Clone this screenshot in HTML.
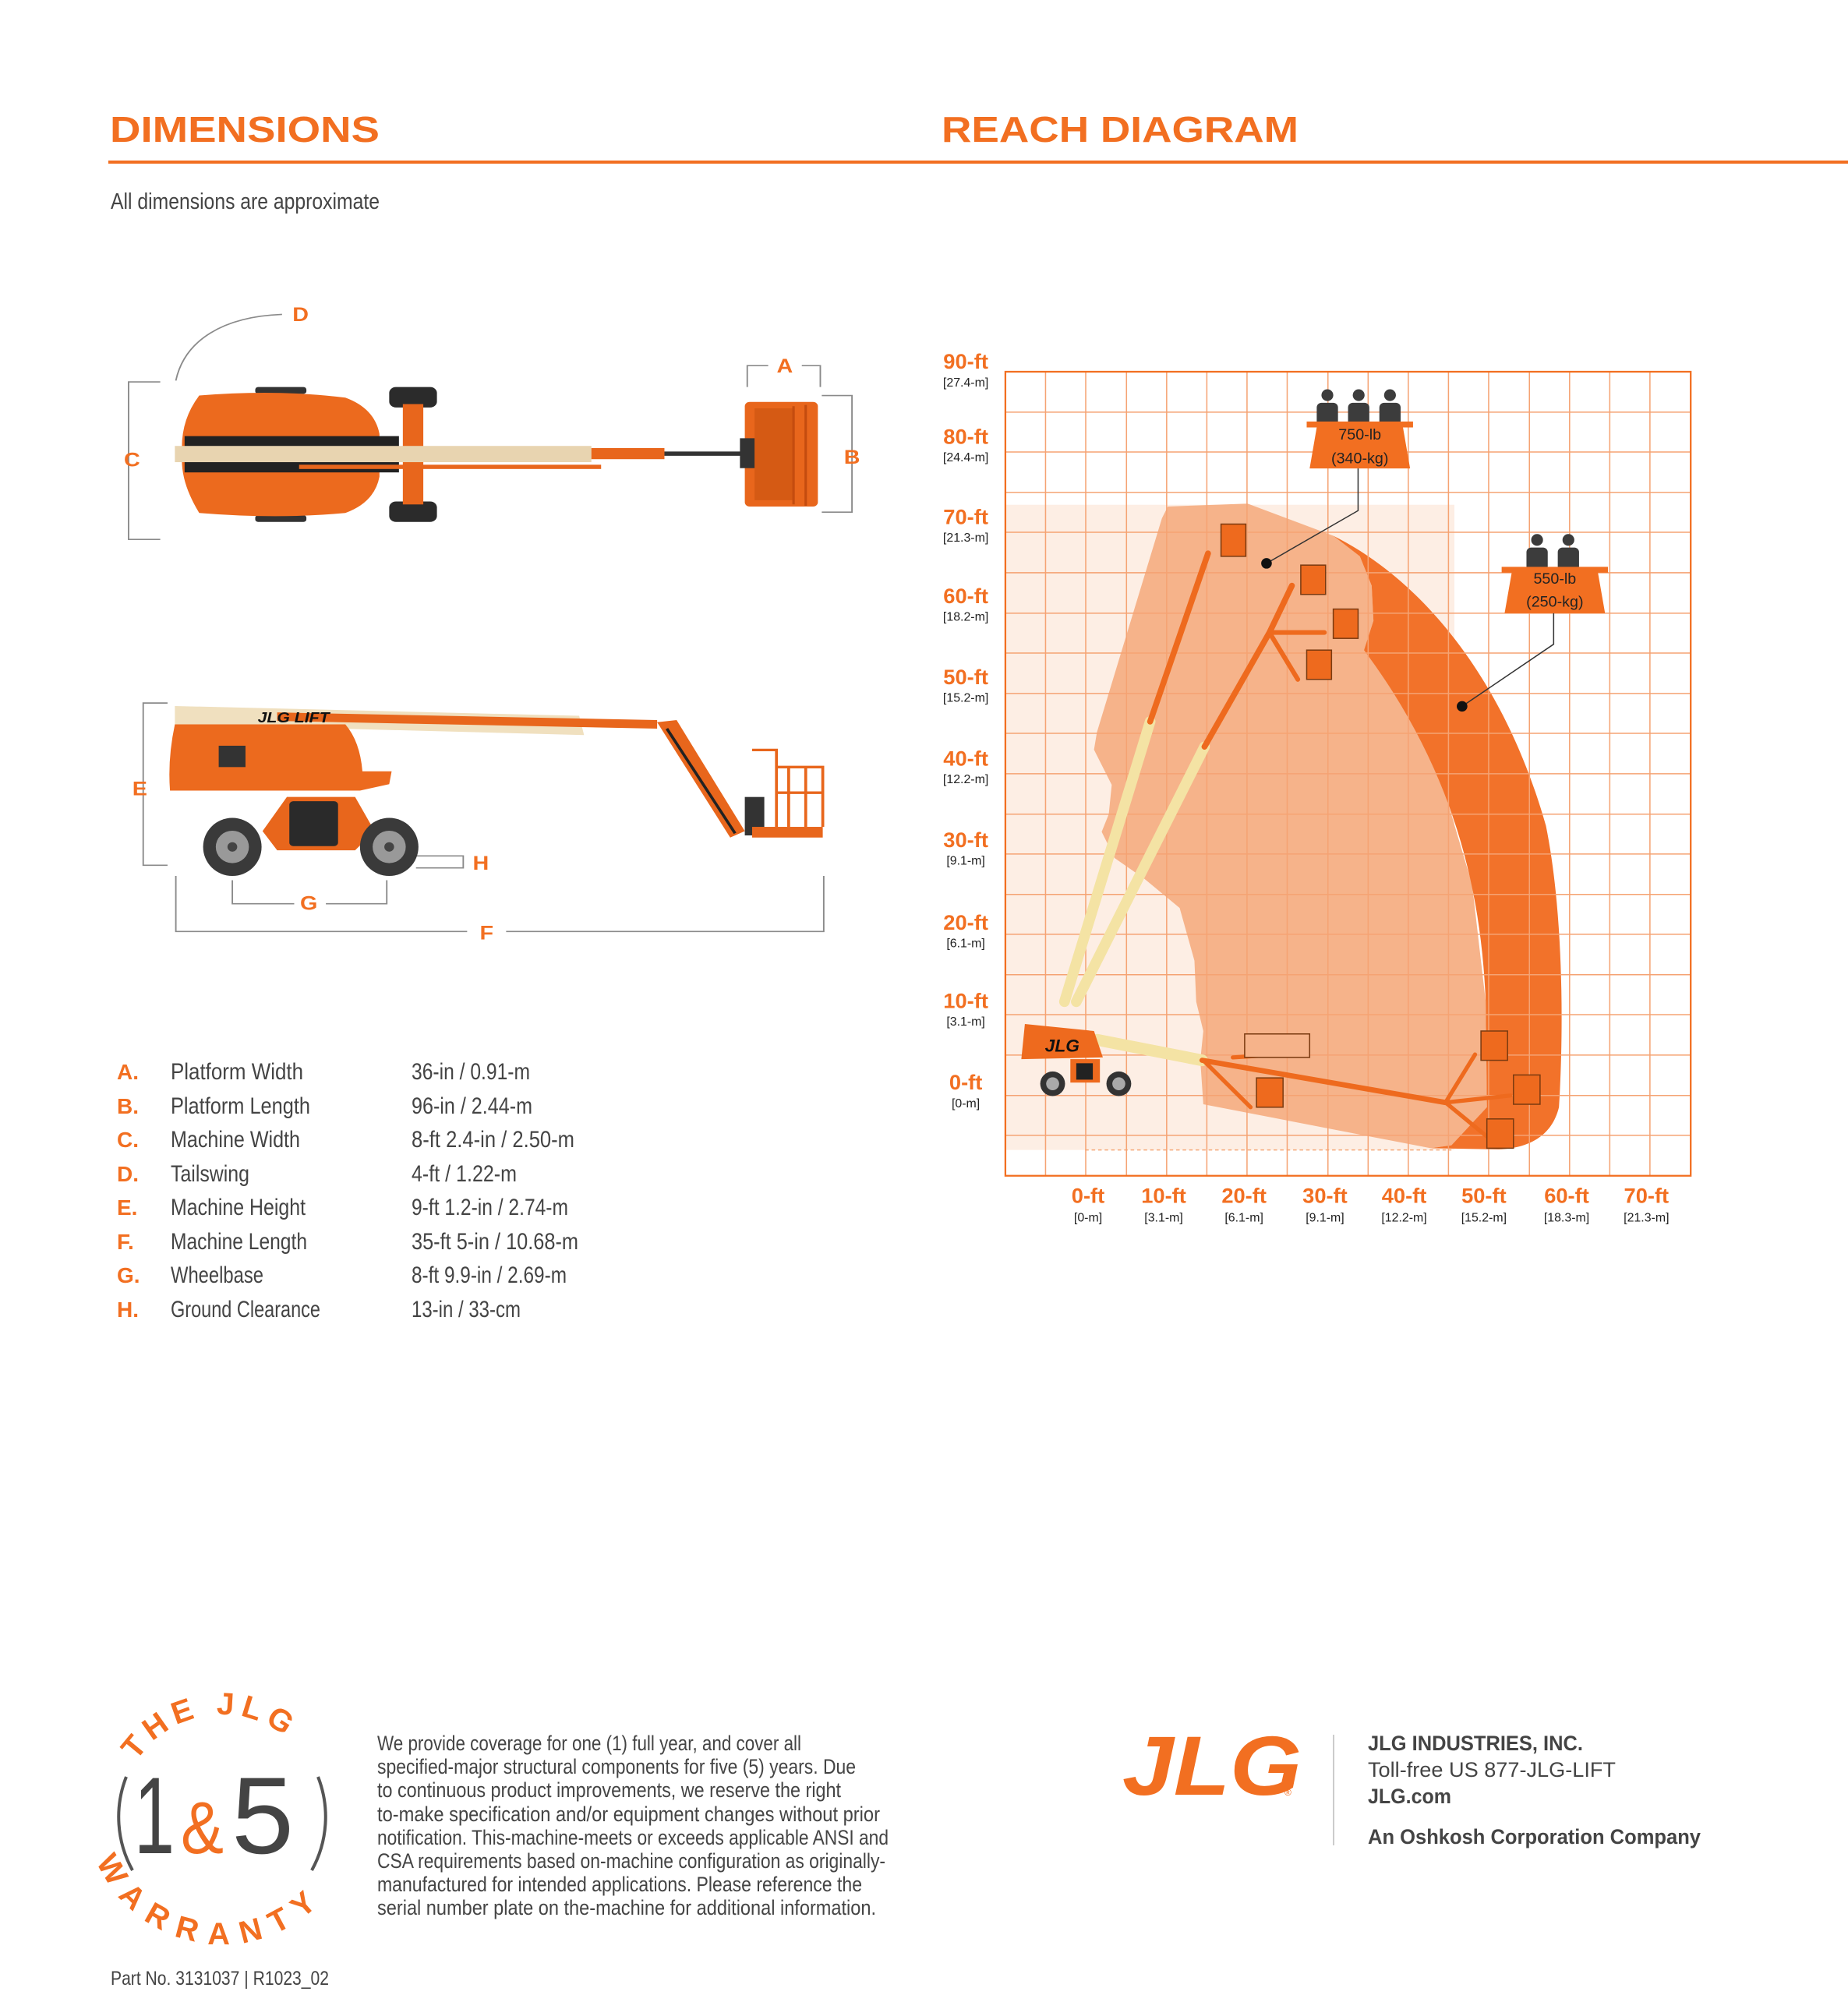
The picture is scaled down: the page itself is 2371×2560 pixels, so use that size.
<!DOCTYPE html>
<html><head><meta charset="utf-8"><style>
html,body{margin:0;padding:0;background:#fff}
svg{display:block}
text{font-family:"Liberation Sans",sans-serif}
</style></head><body>
<svg width="2371" height="2560" viewBox="0 0 2371 2560" xmlns="http://www.w3.org/2000/svg">
<!-- headers -->
<text x="141" y="182" font-size="46" font-weight="bold" fill="#f26f21" textLength="346" lengthAdjust="spacingAndGlyphs">DIMENSIONS</text>
<text x="1208" y="182" font-size="46" font-weight="bold" fill="#f26f21" textLength="458" lengthAdjust="spacingAndGlyphs">REACH DIAGRAM</text>
<rect x="139" y="206" width="2232" height="4" fill="#f26f21"/>
<text x="142" y="268" font-size="29" fill="#444" textLength="345" lengthAdjust="spacingAndGlyphs">All dimensions are approximate</text>

<!-- left machine diagrams (zoom2 coords) -->
<g transform="translate(130.6,359.6) scale(0.625,0.548)">
 <g stroke="#8a8a8a" stroke-width="3" fill="none">
  <path d="M120 238 H55 V607 H120"/>
  <path d="M152 235 C170 140 250 85 370 80"/>
  <path d="M1325 250 V200 H1368 M1437 200 H1475 V250"/>
  <path d="M1478 270 H1540 V543 H1478"/>
  <path d="M135 990 H85 V1370 H135"/>
  <path d="M645 1348 H742 V1376 H645"/>
  <path d="M268 1405 V1460 H395 M460 1460 H585 V1405"/>
  <path d="M152 1395 V1525 H750 M830 1525 H1482 V1395"/>
 </g>
 <g fill="#f26f21" font-weight="bold" font-size="46" text-anchor="middle">
  <text x="408" y="96">D</text><text x="1402" y="216">A</text><text x="1540" y="430">B</text>
  <text x="62" y="436">C</text><text x="78" y="1206">E</text><text x="778" y="1380">H</text>
  <text x="425" y="1474">G</text><text x="790" y="1544">F</text>
 </g>
 <!-- top view -->
 <rect x="590" y="250" width="98" height="48" rx="14" fill="#2b2b2b"/>
 <rect x="590" y="518" width="98" height="48" rx="14" fill="#2b2b2b"/>
 <rect x="618" y="290" width="42" height="235" fill="#e8661c"/>
 <rect x="315" y="250" width="105" height="16" rx="6" fill="#333"/>
 <rect x="315" y="550" width="105" height="16" rx="6" fill="#333"/>
 <path d="M200 270 Q360 255 500 275 Q560 300 570 360 V460 Q560 520 500 545 Q360 560 200 545 Q160 470 165 408 Q160 330 200 270Z" fill="#ec6a1e"/>
 <rect x="170" y="365" width="440" height="85" fill="#222"/>
 <rect x="150" y="388" width="855" height="38" fill="#e8d4b0"/>
 <rect x="1005" y="393" width="150" height="26" fill="#e8661c"/>
 <rect x="405" y="432" width="620" height="10" fill="#e8661c"/>
 <path d="M1155 406 H1325" stroke="#333" stroke-width="10"/>
 <rect x="1320" y="285" width="150" height="245" rx="10" fill="#e8661c"/>
 <rect x="1340" y="300" width="80" height="215" fill="#d55a14"/>
 <path d="M1420 295 V525 M1445 292 V528" stroke="#c44c0f" stroke-width="5"/>
 <rect x="1310" y="370" width="30" height="70" fill="#333"/>
 <!-- side view -->
 <path d="M150 997 L980 1020 L990 1065 L150 1040Z" fill="#f0e0bf"/>
 <path d="M360 1012 L1140 1030 L1140 1050 L360 1032Z" fill="#e8661c"/>
 <text x="320" y="1035" font-size="34" font-weight="bold" font-style="italic" fill="#111">JLG LIFT</text>
 <path d="M150 1040 H500 Q530 1080 535 1150 L595 1150 L590 1180 L530 1195 H140 Q135 1120 150 1040Z" fill="#ec6a1e"/>
 <rect x="240" y="1090" width="55" height="50" fill="#333"/>
 <path d="M1140 1035 L1180 1030 L1320 1290 L1290 1305Z" fill="#e8661c"/>
 <path d="M1160 1050 L1300 1295" stroke="#222" stroke-width="6"/>
 <rect x="1320" y="1210" width="40" height="90" fill="#333"/>
 <rect x="1335" y="1280" width="145" height="25" fill="#e8661c"/>
 <path d="M1335 1100 H1385 V1280 M1385 1140 H1480 V1280 M1410 1140 V1280 M1445 1140 V1280 M1385 1200 H1480" stroke="#e8661c" stroke-width="6" fill="none"/>
 <path d="M330 1290 L380 1210 H520 L560 1290 L520 1335 H360Z" fill="#e8661c"/>
 <rect x="385" y="1220" width="100" height="105" rx="8" fill="#2a2a2a"/>
 <ellipse cx="268" cy="1327" rx="60" ry="68" fill="#3a3a3a"/><ellipse cx="268" cy="1327" rx="34" ry="38" fill="#999"/><ellipse cx="268" cy="1327" rx="10" ry="11" fill="#444"/>
 <ellipse cx="590" cy="1327" rx="60" ry="68" fill="#3a3a3a"/><ellipse cx="590" cy="1327" rx="34" ry="38" fill="#999"/><ellipse cx="590" cy="1327" rx="10" ry="11" fill="#444"/>
</g>

<!-- table -->
<g font-size="30">
 <g fill="#f26f21" font-weight="bold" font-size="28">
  <text x="150" y="1385">A.</text><text x="150" y="1429">B.</text><text x="150" y="1472">C.</text><text x="150" y="1516">D.</text>
  <text x="150" y="1559">E.</text><text x="150" y="1603">F.</text><text x="150" y="1646">G.</text><text x="150" y="1690">H.</text>
 </g>
 <g fill="#444">
  <text x="219" y="1385" textLength="170" lengthAdjust="spacingAndGlyphs">Platform Width</text>
  <text x="219" y="1429" textLength="179" lengthAdjust="spacingAndGlyphs">Platform Length</text>
  <text x="219" y="1472" textLength="166" lengthAdjust="spacingAndGlyphs">Machine Width</text>
  <text x="219" y="1516" textLength="101" lengthAdjust="spacingAndGlyphs">Tailswing</text>
  <text x="219" y="1559" textLength="173" lengthAdjust="spacingAndGlyphs">Machine Height</text>
  <text x="219" y="1603" textLength="175" lengthAdjust="spacingAndGlyphs">Machine Length</text>
  <text x="219" y="1646" textLength="119" lengthAdjust="spacingAndGlyphs">Wheelbase</text>
  <text x="219" y="1690" textLength="192" lengthAdjust="spacingAndGlyphs">Ground Clearance</text>
  <text x="528" y="1385" textLength="152" lengthAdjust="spacingAndGlyphs">36-in / 0.91-m</text>
  <text x="528" y="1429" textLength="155" lengthAdjust="spacingAndGlyphs">96-in / 2.44-m</text>
  <text x="528" y="1472" textLength="209" lengthAdjust="spacingAndGlyphs">8-ft 2.4-in / 2.50-m</text>
  <text x="528" y="1516" textLength="135" lengthAdjust="spacingAndGlyphs">4-ft / 1.22-m</text>
  <text x="528" y="1559" textLength="201" lengthAdjust="spacingAndGlyphs">9-ft 1.2-in / 2.74-m</text>
  <text x="528" y="1603" textLength="214" lengthAdjust="spacingAndGlyphs">35-ft 5-in / 10.68-m</text>
  <text x="528" y="1646" textLength="199" lengthAdjust="spacingAndGlyphs">8-ft 9.9-in / 2.69-m</text>
  <text x="528" y="1690" textLength="140" lengthAdjust="spacingAndGlyphs">13-in / 33-cm</text>
 </g>
</g>

<!-- reach diagram (zoom1 coords) -->
<g transform="translate(1180,420.6) scale(0.758,0.752)">
 <rect x="145" y="302" width="760" height="1101" fill="#fdeee4"/>
 <path d="M280 1403 H900" stroke="#f5a878" stroke-width="2" stroke-dasharray="6 5"/>
 <path d="M420 305 L555 300 L700 355 L745 390 L765 440 L768 500 L752 550 L820 640 L885 780 L935 950 L958 1150 L960 1330 L900 1395 L865 1400 L480 1325 L475 1250 L480 1200 L468 1150 L465 1080 L440 990 L380 940 L330 905 L308 860 L320 830 L325 780 L295 720 L300 690 L410 325Z" fill="#f6b38a"/>
 <path d="M700 355 C850 430 990 600 1060 850 C1090 1000 1090 1200 1082 1330 C1070 1380 1030 1400 980 1402 L865 1400 L900 1395 L960 1330 L958 1150 C950 950 900 750 752 550 L768 500 L765 440 L745 390Z" fill="#f2722a"/>
 <g stroke="#f5a373" stroke-width="2" fill="none">
  <path d="M213 75V1447M281 75V1447M350 75V1447M418 75V1447M486 75V1447M554 75V1447M622 75V1447M691 75V1447M759 75V1447M827 75V1447M895 75V1447M963 75V1447M1032 75V1447M1100 75V1447M1168 75V1447M1236 75V1447"/>
  <path d="M145 144H1305M145 212H1305M145 281H1305M145 349H1305M145 418H1305M145 487H1305M145 555H1305M145 624H1305M145 692H1305M145 761H1305M145 830H1305M145 898H1305M145 967H1305M145 1035H1305M145 1104H1305M145 1172H1305M145 1241H1305M145 1310H1305M145 1378H1305"/>
 </g>
 <rect x="145" y="75" width="1160" height="1372" fill="none" stroke="#f26f21" stroke-width="3"/>
 <g stroke-linecap="round">
  <path d="M245 1150 L390 672" stroke="#f4e3a4" stroke-width="18"/>
  <path d="M390 672 L488 385" stroke="#ee6a1e" stroke-width="10"/>
  <path d="M265 1150 L482 715" stroke="#f4e3a4" stroke-width="18"/>
  <path d="M482 715 L592 520 L630 440" stroke="#ee6a1e" stroke-width="10"/>
  <path d="M592 520 L685 520 M592 520 L640 600" stroke="#ee6a1e" stroke-width="8"/>
  <path d="M300 1215 L478 1250" stroke="#f4e3a4" stroke-width="20"/>
  <path d="M478 1250 L890 1322" stroke="#ee6a1e" stroke-width="9"/>
  <path d="M480 1250 L560 1330 M530 1245 L610 1240 M890 1322 L940 1240 M890 1322 L960 1380 M890 1322 L1000 1310" stroke="#ee6a1e" stroke-width="7"/>
 </g>
 <g fill="#ee6a1e" stroke="#7a3a10" stroke-width="2">
  <rect x="510" y="335" width="42" height="55"/><rect x="645" y="405" width="42" height="50"/>
  <rect x="700" y="480" width="42" height="50"/><rect x="655" y="550" width="42" height="50"/>
  <rect x="550" y="1205" width="110" height="40" fill="#f6b38a"/><rect x="570" y="1280" width="45" height="50"/>
  <rect x="950" y="1200" width="45" height="50"/><rect x="1005" y="1275" width="45" height="50"/>
  <rect x="960" y="1350" width="45" height="50"/>
 </g>
 <path d="M178 1188 L295 1200 L310 1245 L172 1248Z" fill="#ee6a1e"/>
 <text x="212" y="1235" font-size="30" font-weight="bold" font-style="italic" fill="#111">JLG</text>
 <rect x="255" y="1248" width="50" height="40" fill="#ee6a1e"/>
 <rect x="265" y="1255" width="28" height="28" fill="#222"/>
 <circle cx="225" cy="1290" r="21" fill="#333"/><circle cx="225" cy="1290" r="11" fill="#aaa"/>
 <circle cx="337" cy="1290" r="21" fill="#333"/><circle cx="337" cy="1290" r="11" fill="#aaa"/>
 <g fill="#3c3c3c">
  <circle cx="690" cy="115" r="10"/><rect x="672" y="128" width="36" height="40" rx="8"/>
  <circle cx="743" cy="115" r="10"/><rect x="725" y="128" width="36" height="40" rx="8"/>
  <circle cx="796" cy="115" r="10"/><rect x="778" y="128" width="36" height="40" rx="8"/>
  <circle cx="1045" cy="362" r="10"/><rect x="1027" y="375" width="36" height="40" rx="8"/>
  <circle cx="1098" cy="362" r="10"/><rect x="1080" y="375" width="36" height="40" rx="8"/>
 </g>
 <path d="M655 160 H835 V170 H818 L830 240 H660 L672 170 H655Z" fill="#f26f21"/>
 <path d="M985 408 H1165 V418 H1148 L1160 487 H990 L1002 418 H985Z" fill="#f26f21"/>
 <g font-size="26" text-anchor="middle" fill="#222">
  <text x="745" y="191">750-lb</text><text x="745" y="231">(340-kg)</text>
  <text x="1075" y="437">550-lb</text><text x="1075" y="476">(250-kg)</text>
 </g>
 <path d="M742 240 V312 L587 402 M1073 487 V540 L918 646" stroke="#333" stroke-width="2" fill="none"/>
 <circle cx="587" cy="402" r="9" fill="#111"/><circle cx="918" cy="646" r="9" fill="#111"/>
 <g text-anchor="middle">
  <g fill="#f26f21" font-weight="bold" font-size="36">
   <text x="78" y="70">90-ft</text><text x="78" y="198">80-ft</text><text x="78" y="335">70-ft</text><text x="78" y="470">60-ft</text>
   <text x="78" y="608">50-ft</text><text x="78" y="747">40-ft</text><text x="78" y="886">30-ft</text><text x="78" y="1027">20-ft</text>
   <text x="78" y="1161">10-ft</text><text x="78" y="1300">0-ft</text>
   <text x="285" y="1493">0-ft</text><text x="413" y="1493">10-ft</text><text x="549" y="1493">20-ft</text><text x="686" y="1493">30-ft</text>
   <text x="820" y="1493">40-ft</text><text x="955" y="1493">50-ft</text><text x="1095" y="1493">60-ft</text><text x="1230" y="1493">70-ft</text>
  </g>
  <g fill="#222" font-size="21">
   <text x="78" y="100">[27.4-m]</text><text x="78" y="228">[24.4-m]</text><text x="78" y="365">[21.3-m]</text><text x="78" y="500">[18.2-m]</text>
   <text x="78" y="638">[15.2-m]</text><text x="78" y="777">[12.2-m]</text><text x="78" y="916">[9.1-m]</text><text x="78" y="1057">[6.1-m]</text>
   <text x="78" y="1191">[3.1-m]</text><text x="78" y="1330">[0-m]</text>
   <text x="285" y="1525">[0-m]</text><text x="413" y="1525">[3.1-m]</text><text x="549" y="1525">[6.1-m]</text><text x="686" y="1525">[9.1-m]</text>
   <text x="820" y="1525">[12.2-m]</text><text x="955" y="1525">[15.2-m]</text><text x="1095" y="1525">[18.3-m]</text><text x="1230" y="1525">[21.3-m]</text>
  </g>
 </g>
</g>

<!-- footer: warranty badge -->
<defs>
 <path id="arcTop" d="M155 2330 A130 130 0 0 1 415 2330"/>
 <path id="arcBot" d="M140 2320 A145 145 0 0 0 430 2320"/>
</defs>
<path d="M162 2280 A141 141 0 0 0 170 2400" stroke="#555" stroke-width="4" fill="none"/>
<path d="M408 2280 A141 141 0 0 1 400 2400" stroke="#555" stroke-width="4" fill="none"/>
<text font-size="40" font-weight="bold" fill="#f26f21" letter-spacing="8"><textPath href="#arcTop" startOffset="18%">THE JLG</textPath></text>
<text font-size="40" font-weight="bold" fill="#f26f21" letter-spacing="8" dy="30"><textPath href="#arcBot" startOffset="12%">WARRANTY</textPath></text>
<text x="172" y="2378" font-size="140" fill="#444" textLength="52" lengthAdjust="spacingAndGlyphs">1</text>
<text x="232" y="2378" font-size="95" fill="#f26f21" textLength="55" lengthAdjust="spacingAndGlyphs">&amp;</text>
<text x="297" y="2378" font-size="140" fill="#444" textLength="80" lengthAdjust="spacingAndGlyphs">5</text>

<g font-size="27" fill="#444">
 <text x="484" y="2246" textLength="544" lengthAdjust="spacingAndGlyphs">We provide coverage for one (1) full year, and cover all</text>
 <text x="484" y="2276" textLength="614" lengthAdjust="spacingAndGlyphs">specified-major structural components for five (5) years. Due</text>
 <text x="484" y="2306" textLength="595" lengthAdjust="spacingAndGlyphs">to continuous product improvements, we reserve the right</text>
 <text x="484" y="2337" textLength="645" lengthAdjust="spacingAndGlyphs">to-make specification and/or equipment changes without prior</text>
 <text x="484" y="2367" textLength="656" lengthAdjust="spacingAndGlyphs">notification. This-machine-meets or exceeds applicable ANSI and</text>
 <text x="484" y="2397" textLength="652" lengthAdjust="spacingAndGlyphs">CSA requirements based on-machine configuration as originally-</text>
 <text x="484" y="2427" textLength="622" lengthAdjust="spacingAndGlyphs">manufactured for intended applications. Please reference the</text>
 <text x="484" y="2457" textLength="640" lengthAdjust="spacingAndGlyphs">serial number plate on the-machine for additional information.</text>
 <text x="142" y="2547" font-size="25" textLength="280" lengthAdjust="spacingAndGlyphs">Part No. 3131037  |  R1023_02</text>
</g>

<text x="1440" y="2303" font-size="108" font-weight="bold" font-style="italic" fill="#f26f21" textLength="230" lengthAdjust="spacingAndGlyphs">JLG</text>
<text x="1648" y="2304" font-size="12" fill="#f26f21">®</text>
<rect x="1710" y="2226" width="2" height="142" fill="#ccc"/>
<g fill="#444">
 <text x="1755" y="2246" font-size="27" font-weight="bold" textLength="276" lengthAdjust="spacingAndGlyphs">JLG INDUSTRIES, INC.</text>
 <text x="1755" y="2280" font-size="27" textLength="318" lengthAdjust="spacingAndGlyphs">Toll-free US 877-JLG-LIFT</text>
 <text x="1755" y="2314" font-size="27" font-weight="bold" textLength="107" lengthAdjust="spacingAndGlyphs">JLG.com</text>
 <text x="1755" y="2366" font-size="27" font-weight="bold" textLength="427" lengthAdjust="spacingAndGlyphs">An Oshkosh Corporation Company</text>
</g>
</svg>
</body></html>
